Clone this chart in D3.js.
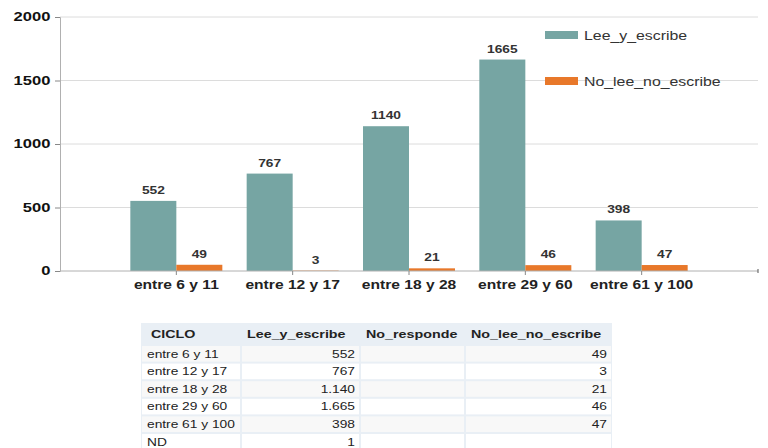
<!DOCTYPE html>
<html><head><meta charset="utf-8">
<script src="https://cdn.jsdelivr.net/npm/d3@7"></script>
<style>body{margin:0;background:#fff}svg{display:block;font-family:"Liberation Sans",Arial,sans-serif}</style>
</head><body><svg id="c" width="768" height="448"></svg>
<script>
const categories = ["entre 6 y 11","entre 12 y 17","entre 18 y 28","entre 29 y 60","entre 61 y 100"];
const seriesNames = ["Lee_y_escribe","No_lee_no_escribe"];
const leeYEscribe = [552,767,1140,1665,398];
const noLeeNoEscribe = [49,3,21,46,47];
const yTicks = [0,500,1000,1500,2000];
const colors = ["#76a5a3","#e8782a"];
const tableHeader = ["CICLO","Lee_y_escribe","No_responde","No_lee_no_escribe"];
const tableCiclo = ["entre 6 y 11","entre 12 y 17","entre 18 y 28","entre 29 y 60","entre 61 y 100","ND"];
const tableLee = ["552","767","1.140","1.665","398","1"];
const tableNoResp = ["","","","","",""];
const tableNoLee = ["49","3","21","46","47",""];

const svg = d3.select("#c");
// text stretched horizontally (the reference is a widened screenshot)
function txt(parent, x, y, s, sx){
  return parent.append("text").attr("transform",`translate(${x},${y}) scale(${sx},1)`).text(s);
}

const x0 = 60, x1 = 758, yTop = 17, yBot = 271;
const y = d3.scaleLinear().domain([0,2000]).range([yBot,yTop]);
const step = (x1-x0)/6;
const xb = d3.scaleBand().domain(categories).range([x0+step/2, x1-step/2]).padding(0);
const bw = 46;
const xs = d3.scaleBand().domain(seriesNames).range([xb.bandwidth()/2-bw, xb.bandwidth()/2+bw]);

// gridlines
svg.append("g").selectAll("line").data(yTicks.filter(d=>d>0)).join("line")
  .attr("x1",x0).attr("x2",x1).attr("y1",d=>y(d)).attr("y2",d=>y(d))
  .attr("stroke","#dcdcdc").attr("stroke-width",1);

// y axis
const ya = svg.append("g").attr("transform",`translate(${x0},0)`)
  .call(d3.axisLeft(y).tickValues(yTicks).tickFormat(d3.format("d")).tickSize(5).tickPadding(2));
ya.select(".domain").attr("stroke","#b0b0b0");
ya.selectAll(".tick line").attr("stroke","#888");
ya.selectAll("text").attr("font-size",12).attr("font-weight","bold").attr("fill","#111")
  .attr("font-family","Liberation Sans, Arial, sans-serif").attr("transform","scale(1.38,1)");

// bars
const data = categories.map((c,i)=>({c, vals:[leeYEscribe[i], noLeeNoEscribe[i]]}));
const g = svg.append("g");
const grp = g.selectAll("g").data(data).join("g").attr("transform",d=>`translate(${xb(d.c)},0)`);
grp.selectAll("rect").data(d=>d.vals.map((v,k)=>({k,v}))).join("rect")
  .attr("x",d=>xs(seriesNames[d.k])).attr("width",xs.bandwidth())
  .attr("y",d=>y(d.v)).attr("height",d=>yBot-y(d.v))
  .attr("fill",d=>colors[d.k]);
grp.each(function(d){
  const gg = d3.select(this);
  d.vals.forEach((v,k)=>{
    txt(gg, xs(seriesNames[k])+xs.bandwidth()/2, y(v)-7, v, 1.25)
      .attr("text-anchor","middle").attr("font-size",11).attr("font-weight","bold").attr("fill","#333");
  });
});

// x axis
const xa = svg.append("g").attr("transform",`translate(0,${yBot})`);
xa.append("line").attr("x1",x0).attr("x2",x1).attr("stroke","#b0b0b0");
xa.selectAll("line.t").data(categories).join("line").attr("class","t")
  .attr("x1",d=>xb(d)+xb.bandwidth()/2).attr("x2",d=>xb(d)+xb.bandwidth()/2).attr("y1",0).attr("y2",4).attr("stroke","#888");
xa.append("line").attr("x1",x1).attr("x2",x1).attr("y1",-2).attr("y2",2).attr("stroke","#555");
categories.forEach(c=>{
  txt(xa, xb(c)+xb.bandwidth()/2, 18, c, 1.3)
    .attr("text-anchor","middle").attr("font-size",12).attr("font-weight","bold").attr("fill","#222");
});

// legend
const lg = svg.append("g");
seriesNames.forEach((s,k)=>{
  const ly = [35,81][k];
  lg.append("rect").attr("x",545).attr("y",ly-4).attr("width",33).attr("height",8).attr("fill",colors[k]);
  txt(lg, 584, ly+5, s, 1.22).attr("font-size",13).attr("fill","#333");
});

// table
const cols = [141,241,360,465,612];
const headTop = 323, headH = 22, rowH = 17.6;
const tg = svg.append("g");
tg.append("rect").attr("x",cols[0]).attr("y",headTop).attr("width",cols[4]-cols[0]).attr("height",headH+rowH*6+2).attr("fill","#e9eff5");
tableHeader.forEach((h,j)=>{
  txt(tg, cols[j]+(j==0?10:6), headTop+15, h, 1.3).attr("font-size",11).attr("font-weight","bold").attr("fill","#222");
});
const cellCols = [tableCiclo, tableLee, tableNoResp, tableNoLee];
tableCiclo.forEach((_,i)=>{
  const ry = headTop+headH+i*rowH;
  for(let j=0;j<4;j++){
    tg.append("rect").attr("x",cols[j]+1).attr("y",ry+1).attr("width",cols[j+1]-cols[j]-2).attr("height",rowH-2)
      .attr("fill", i%2==0 ? "#f8f8f8" : "#ffffff");
    const t = cellCols[j][i];
    if(t!==""){
      const tx = j==0 ? cols[j]+6 : cols[j+1]-5;
      const el = txt(tg, tx, ry+12.5, t, 1.25).attr("font-size",11).attr("fill","#222");
      if(j>0) el.attr("text-anchor","end");
    }
  }
});
</script></body></html>
